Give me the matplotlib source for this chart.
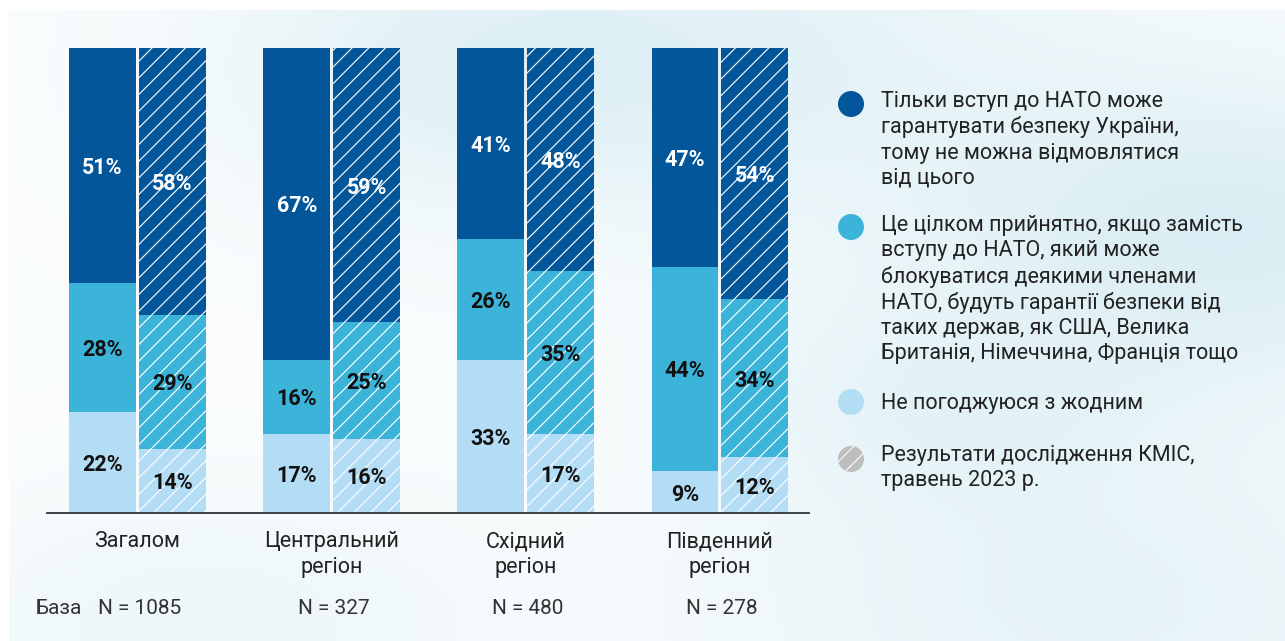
import matplotlib.pyplot as plt
import numpy as np
from matplotlib.patches import Ellipse

plt.rcParams['font.family'] = ['Roboto', 'DejaVu Sans']
plt.rcParams['hatch.linewidth'] = 0.8

# regions and sample sizes
categories = ['Загалом', 'Центральний\nрегіон', 'Східний\nрегіон', 'Південний\nрегіон']
base_n = ['N = 1085', 'N = 327', 'N = 480', 'N = 278']

# current survey (solid bars)
only_nato = [51, 67, 41, 47]
alt_guarantees = [28, 16, 26, 44]
disagree = [22, 17, 33, 9]

# KIIS, May 2023 (hatched bars)
kiis_only_nato = [58, 59, 48, 54]
kiis_alt = [29, 25, 35, 34]
kiis_disagree = [14, 16, 17, 12]

legend_labels = [
    'Тільки вступ до НАТО може\nгарантувати безпеку України,\nтому не можна відмовлятися\nвід цього',
    'Це цілком прийнятно, якщо замість\nвступу до НАТО, який може\nблокуватися деякими членами\nНАТО, будуть гарантії безпеки від\nтаких держав, як США, Велика\nБританія, Німеччина, Франція тощо',
    'Не погоджуюся з жодним',
    'Результати дослідження КМІС,\nтравень 2023 р.',
]

DARK = '#03569A'
MID = '#3CB4D9'
LIGHT = '#B3DDF4'
W, H = 1285, 641

fig = plt.figure(figsize=(W / 100, H / 100), dpi=100)
fig.patch.set_facecolor('white')

# soft watercolor-like background
bg = fig.add_axes([9 / W, 0, 1 - 9 / W, 1 - 10 / H], zorder=-5)
gx, gy = np.meshgrid(np.linspace(0, 1, 300), np.linspace(0, 1, 150))
blobs = [(0.55, 0.05, 0.22, 0.6), (0.97, 0.35, 0.18, 0.9), (0.85, 0.95, 0.22, 0.6),
         (0.35, 0.1, 0.15, 0.4), (0.15, 0.98, 0.15, 0.4), (0.72, 0.62, 0.12, 0.4)]
val = np.zeros_like(gx)
for bx, by, s, a in blobs:
    val += a * np.exp(-((gx - bx) ** 2 + (gy - by) ** 2) / (2 * s ** 2))
val = np.clip(val, 0, 1)
c0 = np.array([0.985, 0.993, 0.996])
c1 = np.array([0.85, 0.93, 0.955])
img = c0 + (c1 - c0) * val[..., None]
bg.imshow(img, aspect='auto', extent=[0, 1, 0, 1])
bg.axis('off')

# main axes in pixel-matched position
left, right, top, bottom = 47, 809, 48, 513
ax = fig.add_axes([left / W, 1 - bottom / H, (right - left) / W, (bottom - top) / H])
ax.patch.set_alpha(0)
step = 194
x = np.arange(len(categories))
ax.set_xlim(-(137.5 - left) / step, 3 + (right - 720) / step)
ax.set_ylim(0, 100)
width = 0.345
off = 0.18


def draw_stack(xpos, segs, hatch):
    total = np.sum(segs, axis=0)
    bottoms = np.zeros(len(xpos))
    for vals, col, tcol in zip(segs, [LIGHT, MID, DARK], ['#111111', '#111111', 'white']):
        h = np.array(vals) / total * 100
        ax.bar(xpos, h, width, bottom=bottoms, color=col, hatch=hatch,
               edgecolor='white', linewidth=0)
        for xi, bi, hi, v in zip(xpos, bottoms, h, vals):
            ax.text(xi, bi + hi / 2, f'{v}%', ha='center', va='center_baseline',
                    fontsize=15.5, fontweight='bold', color=tcol)
        bottoms += h


draw_stack(x - off, [disagree, alt_guarantees, only_nato], None)
draw_stack(x + off, [kiis_disagree, kiis_alt, kiis_only_nato], '//')

for s in ['top', 'left', 'right']:
    ax.spines[s].set_visible(False)
ax.spines['bottom'].set_color('#333333')
ax.spines['bottom'].set_linewidth(1.3)
ax.set_yticks([])
ax.set_xticks(x, categories, fontsize=15.5, color='#222222', linespacing=1.3)
ax.tick_params(axis='x', length=0, pad=13)

# sample sizes
tr = ax.get_xaxis_transform()
ny = -(608 - bottom) / (bottom - top)
for xi, n in zip(x, base_n):
    ax.text(xi + 0.01, ny, n, transform=tr, ha='center', va='center',
            fontsize=15, color='#333333')
ax.text((35 - 137.5) / step, ny, 'База', transform=tr, ha='left', va='center',
        fontsize=15, color='#333333')

# legend
leg_y = [104, 227, 402, 459]
text_top = [91, 215, 393, 445]
colors = [DARK, MID, LIGHT, '#BDBDBD']
for i, (lab, col) in enumerate(zip(legend_labels, colors)):
    dot = Ellipse((851 / W, 1 - leg_y[i] / H), 26 / W, 26 / H, transform=fig.transFigure,
                  facecolor=col, edgecolor='white', linewidth=0,
                  hatch='//' if i == 3 else None)
    fig.patches.append(dot)
    fig.text(881 / W, 1 - text_top[i] / H, lab, ha='left', va='top',
             fontsize=15.5, color='#222222', linespacing=1.26)

fig.savefig('out.png', dpi=100)
